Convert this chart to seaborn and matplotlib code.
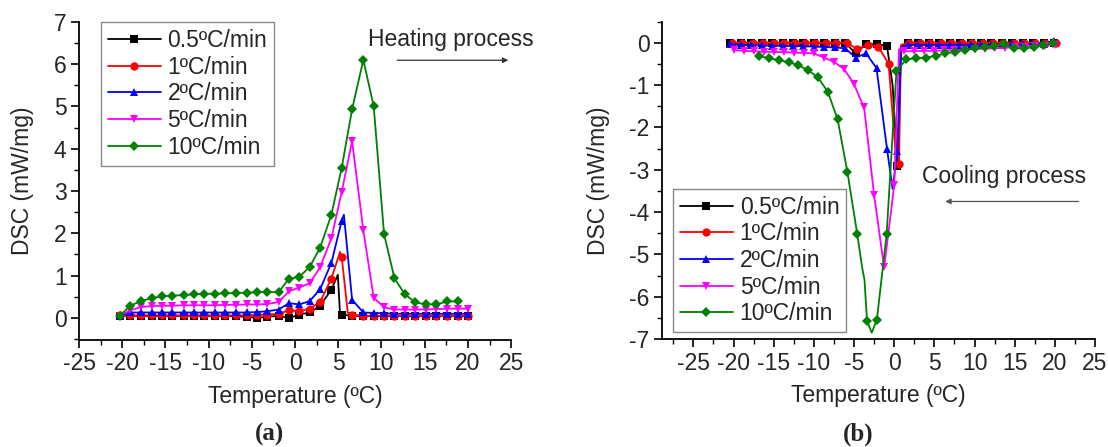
import numpy as np
import pandas as pd
import matplotlib
matplotlib.use("Agg")
import matplotlib.pyplot as plt
import seaborn as sns
from matplotlib.ticker import MultipleLocator

# ---------------- data: heating (a) ----------------
labels = ["0.5ºC/min", "1ºC/min", "2ºC/min", "5ºC/min", "10ºC/min"]
colors = ["#000000", "#FF0000", "#0000FF", "#FF00FF", "#008000"]
markers = ["s", "o", "^", "v", "D"]

heat_x = [-20.3, -19.1, -17.8, -16.6, -15.4, -14.2, -12.9, -11.7, -10.5, -9.3,
          -8.1, -6.8, -5.6, -4.4, -3.2, -1.9, -0.7, 0.5, 1.7, 2.9,
          4.2, 5.4, 6.6, 7.9, 9.1, 10.3, 11.5, 12.7, 13.9, 15.1,
          16.3, 17.6, 18.8, 20.0]

heat_05 = [0.05, 0.05, 0.05, 0.05, 0.05, 0.05, 0.05, 0.05, 0.05, 0.05,
           0.05, 0.04, 0.03, 0.0, 0.03, 0.05, 0.0, 0.08, 0.13, 0.29,
           0.67, 0.08, 0.05, 0.05, 0.05, 0.05, 0.05, 0.05, 0.05, 0.05,
           0.05, 0.05, 0.05, 0.05]
heat_1 = [0.06, 0.06, 0.06, 0.06, 0.06, 0.06, 0.06, 0.06, 0.06, 0.06,
          0.06, 0.06, 0.06, 0.07, 0.08, 0.10, 0.18, 0.16, 0.22, 0.38,
          0.93, 1.44, 0.08, 0.05, 0.05, 0.05, 0.05, 0.05, 0.05, 0.05,
          0.05, 0.05, 0.05, 0.05]
heat_2 = [0.05, 0.13, 0.13, 0.13, 0.13, 0.13, 0.13, 0.13, 0.13, 0.13,
          0.13, 0.13, 0.13, 0.14, 0.16, 0.20, 0.35, 0.32, 0.40, 0.68,
          1.30, 2.30, 0.43, 0.13, 0.12, 0.11, 0.10, 0.10, 0.10, 0.10,
          0.10, 0.10, 0.10, 0.10]
heat_5 = [0.05, 0.18, 0.26, 0.28, 0.29, 0.29, 0.30, 0.30, 0.30, 0.30,
          0.31, 0.31, 0.32, 0.32, 0.33, 0.38, 0.63, 0.72, 0.82, 1.20,
          1.88, 2.98, 4.18, 2.07, 0.48, 0.25, 0.20, 0.20, 0.20, 0.20,
          0.21, 0.22, 0.22, 0.22]
heat_10 = [0.04, 0.29, 0.40, 0.47, 0.51, 0.53, 0.54, 0.56, 0.57, 0.575,
           0.58, 0.59, 0.60, 0.61, 0.61, 0.61, 0.93, 0.97, 1.21, 1.66,
           2.44, 3.55, 4.93, 6.10, 5.00, 1.98, 0.94, 0.56, 0.37, 0.32,
           0.32, 0.39, 0.39]

# line-only points (peaks between markers)
heat_extra_x = [[4.95, 5.2], [5.2, 6.1], [5.65], [], []]
heat_extra_y = [[1.02, 0.10], [1.56, 0.12], [2.44], [], []]

# ---------------- data: cooling (b) ----------------
cool_x_05 = [-20.4 + 1.3 * k for k in range(32)]
cool_05 = [0.0] * 12 + [-0.25, -0.03, -0.03, -0.07, -2.9] + [0.0] * 15
cool_x_1 = [-20.2 + 1.3 * k for k in range(32)]
cool_1 = [0.0] * 12 + [-0.15, -0.05, -0.09, -0.49, -2.87] + [0.0] * 15
cool_x_2 = [-20.4 + 1.3 * k for k in range(32)]
cool_2 = [-0.03, -0.05, -0.06, -0.06, -0.07, -0.07, -0.08, -0.08, -0.09, -0.10,
          -0.11, -0.13, -0.35, -0.25, -0.60, -2.50, -2.55, -0.05, -0.05, -0.05,
          -0.05, -0.05, -0.05, -0.05, -0.05, -0.05, -0.05, -0.04, -0.04, -0.03,
          -0.02, 0.05]
cool_x_5 = [-20.0 + 1.25 * k for k in range(33)]
cool_5 = [-0.17, -0.19, -0.20, -0.21, -0.22, -0.22, -0.23, -0.24, -0.25, -0.35,
          -0.45, -0.62, -0.97, -1.52, -3.60, -5.31, -3.37, -0.20, -0.20, -0.19,
          -0.19, -0.18, -0.17, -0.16, -0.15, -0.14, -0.13, -0.12, -0.10, -0.09,
          -0.08, -0.07, -0.05]
cool_x_10 = [-16.8 + 1.22 * k for k in range(31)]
cool_10 = [-0.31, -0.37, -0.41, -0.46, -0.53, -0.65, -0.82, -1.16, -1.81, -3.06,
           -4.52, -6.57, -6.55, -4.52, -0.67, -0.39, -0.37, -0.35, -0.31, -0.25,
           -0.21, -0.17, -0.13, -0.11, -0.08, -0.04, -0.13, -0.13, -0.11, -0.06,
           -0.01]

cool_extra_x = [[-0.2, 0.8], [0.3, 0.85], [-0.2, 0.9], [-4.4, 0.6], [-4.0, -3.7, -2.8]]
cool_extra_y = [[-1.0, -0.1], [-2.9, -0.05], [-3.45, -0.1], [-1.25, -0.15], [-5.3, -5.6, -6.85]]

heat_series = [(heat_x, heat_05), (heat_x, heat_1), (heat_x, heat_2),
               (heat_x, heat_5), (heat_x[:len(heat_10)], heat_10)]
cool_series = [(cool_x_05, cool_05), (cool_x_1, cool_1), (cool_x_2, cool_2),
               (cool_x_5, cool_5), (cool_x_10, cool_10)]

# ---------------- style ----------------
sns.set_style("ticks")
plt.rcParams["font.family"] = ["Liberation Sans", "DejaVu Sans"]
plt.rcParams["axes.linewidth"] = 1.3
plt.rcParams["axes.unicode_minus"] = False
FS = 16.5


def build(xm, ym, xe, ye):
    df = pd.DataFrame({"x": list(xm) + list(xe), "y": list(ym) + list(ye),
                       "m": [True] * len(xm) + [False] * len(xe)})
    df = df.sort_values("x").reset_index(drop=True)
    return df, list(df.index[df["m"]])


def draw(ax, series, ex_x, ex_y):
    for i, ((xm, ym), xe, ye) in enumerate(zip(series, ex_x, ex_y)):
        df, mk = build(xm, ym, xe, ye)
        sns.lineplot(data=df, x="x", y="y", ax=ax, color=colors[i], marker=markers[i],
                     markersize=6 if markers[i] != "D" else 5.5, markeredgewidth=0,
                     markevery=mk, linewidth=1.3, label=labels[i], errorbar=None,
                     sort=False)


def style_axes(ax):
    sns.despine(ax=ax)
    ax.xaxis.set_major_locator(MultipleLocator(5))
    ax.xaxis.set_minor_locator(MultipleLocator(2.5))
    ax.yaxis.set_major_locator(MultipleLocator(1))
    ax.yaxis.set_minor_locator(MultipleLocator(0.5))
    ax.tick_params(which="major", direction="out", length=6, width=1.2, labelsize=FS,
                   color="black", pad=3)
    ax.tick_params(which="minor", direction="out", length=3.5, width=1.0, color="black")
    ax.set_xlabel("Temperature (ºC)", fontsize=FS, labelpad=7)
    ax.set_ylabel("DSC (mW/mg)", fontsize=FS, labelpad=14)
    for s in ax.spines.values():
        s.set_color("black")


fig = plt.figure(figsize=(11.08, 4.47), dpi=100)
ax1 = fig.add_axes([0.0713, 0.2394, 0.390, 0.712])
ax2 = fig.add_axes([0.5975, 0.2416, 0.3908, 0.710])

draw(ax1, heat_series, heat_extra_x, heat_extra_y)
draw(ax2, cool_series, cool_extra_x, cool_extra_y)

ax1.set_xlim(-25, 25)
ax1.set_ylim(-0.52, 7.0)
ax2.set_xlim(-28.9, 25)
ax2.set_ylim(-7.0, 0.5)
style_axes(ax1)
style_axes(ax2)

leg_kw = dict(fontsize=FS, frameon=True, fancybox=False, edgecolor="#888888",
              framealpha=1, handlelength=2.3, handletextpad=0.3, labelspacing=0.16,
              borderpad=0.3, borderaxespad=0.3)
l1 = ax1.legend(loc="upper left", bbox_to_anchor=(0.035, 1.02), **leg_kw)
l2 = ax2.legend(loc="lower left", bbox_to_anchor=(0.01, 0.0), **leg_kw)
for l in (l1, l2):
    l.get_frame().set_linewidth(1.0)

# annotations
ax1.text(8.4, 6.57, "Heating process", fontsize=FS, ha="left", va="center")
ax1.annotate("", xy=(25, 6.09), xytext=(11.5, 6.09),
             arrowprops=dict(arrowstyle="-|>", color="#333333", lw=0.9,
                             mutation_scale=8), annotation_clip=False)
ax2.text(3.4, -3.16, "Cooling process", fontsize=FS, ha="left", va="center")
ax2.annotate("", xy=(6.0, -3.75), xytext=(23.3, -3.75),
             arrowprops=dict(arrowstyle="-|>", color="#555555", lw=0.9,
                             mutation_scale=8), annotation_clip=False)

fig.text(270 / 1108, 1 - 434 / 447, "(a)", family=["Liberation Serif"], weight="bold",
         fontsize=18, ha="center", va="center")
fig.text(858 / 1108, 1 - 434 / 447, "(b)", family=["Liberation Serif"], weight="bold",
         fontsize=18, ha="center", va="center")

fig.savefig("out.png", dpi=100)
